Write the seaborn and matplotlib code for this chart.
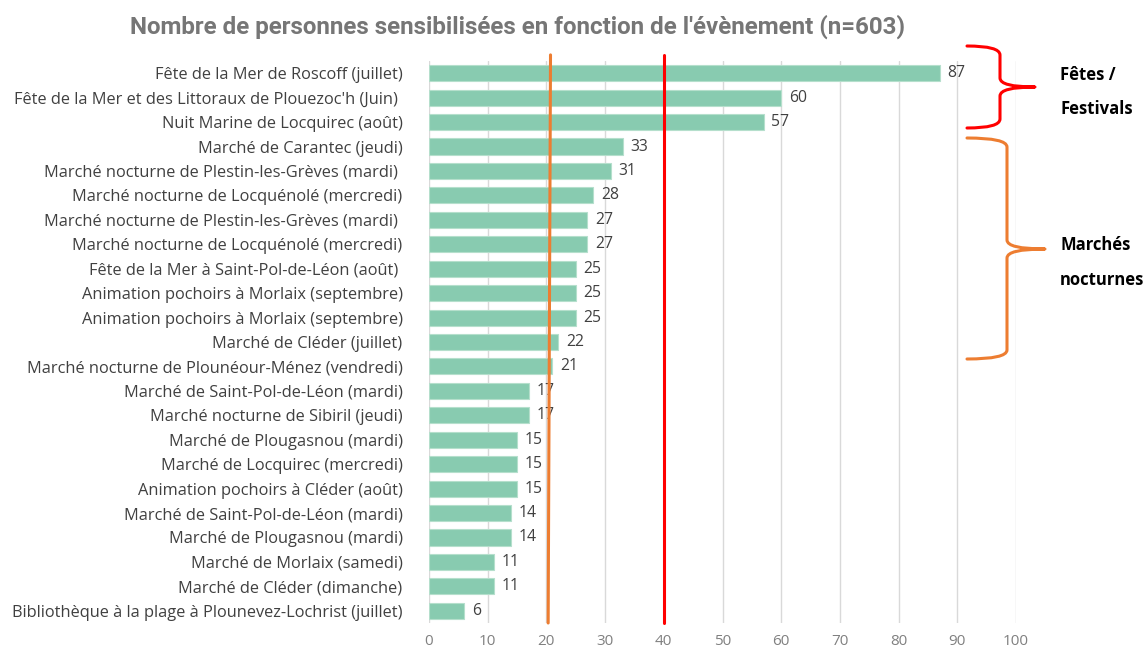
import numpy as np
import pandas as pd
import matplotlib.pyplot as plt
import seaborn as sns
from matplotlib.path import Path
from matplotlib.patches import PathPatch

# Data
events = [
    "Fête de la Mer de Roscoff (juillet)",
    "Fête de la Mer et des Littoraux de Plouezoc'h (Juin) ",
    "Nuit Marine de Locquirec (août)",
    "Marché de Carantec (jeudi)",
    "Marché nocturne de Plestin-les-Grèves (mardi) ",
    "Marché nocturne de Locquénolé (mercredi)",
    "Marché nocturne de Plestin-les-Grèves (mardi) ",
    "Marché nocturne de Locquénolé (mercredi)",
    "Fête de la Mer à Saint-Pol-de-Léon (août) ",
    "Animation pochoirs à Morlaix (septembre)",
    "Animation pochoirs à Morlaix (septembre)",
    "Marché de Cléder (juillet)",
    "Marché nocturne de Plounéour-Ménez (vendredi)",
    "Marché de Saint-Pol-de-Léon (mardi)",
    "Marché nocturne de Sibiril (jeudi)",
    "Marché de Plougasnou (mardi)",
    "Marché de Locquirec (mercredi)",
    "Animation pochoirs à Cléder (août)",
    "Marché de Saint-Pol-de-Léon (mardi)",
    "Marché de Plougasnou (mardi)",
    "Marché de Morlaix (samedi)",
    "Marché de Cléder (dimanche)",
    "Bibliothèque à la plage à Plounevez-Lochrist (juillet)",
]
people = [87, 60, 57, 33, 31, 28, 27, 27, 25, 25, 25, 22, 21, 17, 17, 15, 15, 15, 14, 14, 11, 11, 6]
x_ticks = [0, 10, 20, 30, 40, 50, 60, 70, 80, 90, 100]
orange_line = 20.5
red_line = 40

df = pd.DataFrame({"pos": range(len(events)), "event": events, "people": people})

sns.set_style("white")
plt.rcParams['font.family'] = ['Open Sans', 'DejaVu Sans']

fig = plt.figure(figsize=(11.47, 6.49), dpi=100)
W, H = 1147, 649
ax = fig.add_axes([429 / W, 1 - 623 / H, (1016 - 429) / W, (623 - 61) / H])

sns.barplot(data=df, x="people", y="pos", orient="h", color="#88CBB0",
            saturation=1, width=0.66, edgecolor="#B5DFCC", linewidth=0.8, ax=ax)

ax.set_xlim(0, 100)
ax.set_ylim(len(events) - 0.5, -0.5)
ax.set_xticks(x_ticks)
ax.set_xticklabels([str(t) for t in x_ticks], color="#808080", fontsize=11)
ax.set_yticks(range(len(events)))
ax.set_yticklabels(events, color="#404040", fontsize=11.8)
ax.tick_params(axis="y", length=0, pad=19)
ax.tick_params(axis="x", length=0, pad=8)
ax.set_xlabel("")
ax.set_ylabel("")
ax.grid(axis="x", color="#D9D9D9", linewidth=1)
ax.set_axisbelow(True)
for s in ax.spines.values():
    s.set_visible(False)

for i, v in enumerate(people):
    ax.text(v + 1.3, i, str(v), va="center", ha="left", fontsize=11.3, color="#404040")

# reference lines
ax.plot([orange_line + 0.2, orange_line - 0.2], [-0.75, len(events) - 0.5], color="#ED7D31",
        linewidth=2.2, clip_on=False, zorder=5)
ax.plot([red_line, red_line], [-0.75, len(events) - 0.5], color="#FF0000",
        linewidth=2.2, clip_on=False, zorder=5)


def px(x, y):
    return (x / W, 1 - y / H)


def brace(x0, xm, xt, y0, ym, y1, color):
    r = 9
    pts = [
        (x0, y0), (xm, y0), (xm, y0 + r),
        (xm, ym - r),
        (xm, ym), (xt, ym),
        (xm, ym), (xm, ym + r),
        (xm, y1 - r),
        (xm, y1), (x0, y1),
    ]
    codes = [Path.MOVETO, Path.CURVE3, Path.CURVE3, Path.LINETO,
             Path.CURVE3, Path.CURVE3,
             Path.CURVE3, Path.CURVE3,
             Path.LINETO,
             Path.CURVE3, Path.CURVE3]
    verts = [px(*p) for p in pts]
    patch = PathPatch(Path(verts, codes), transform=fig.transFigure, fill=False,
                      edgecolor=color, linewidth=2.2, capstyle="round", joinstyle="round")
    fig.patches.append(patch)


brace(967, 1000, 1035, 46, 87, 128, "#FF0000")
brace(967, 1007, 1045, 138, 249, 359, "#ED7D31")

for txt, y in [("Fêtes /", 75), ("Festivals", 109), ("Marchés", 245), ("nocturnes", 280)]:
    fig.text(1060 / W, 1 - y / H, txt, fontsize=12, fontweight="bold", color="#000000",
             ha="left", va="center")

fig.text(518 / W, 1 - 27 / H, "Nombre de personnes sensibilisées en fonction de l'évènement (n=603)",
         fontsize=17.4, fontweight="bold", color="#767676", ha="center", va="center",
         family=["Roboto", "DejaVu Sans"])

fig.savefig("out.png", dpi=100)
